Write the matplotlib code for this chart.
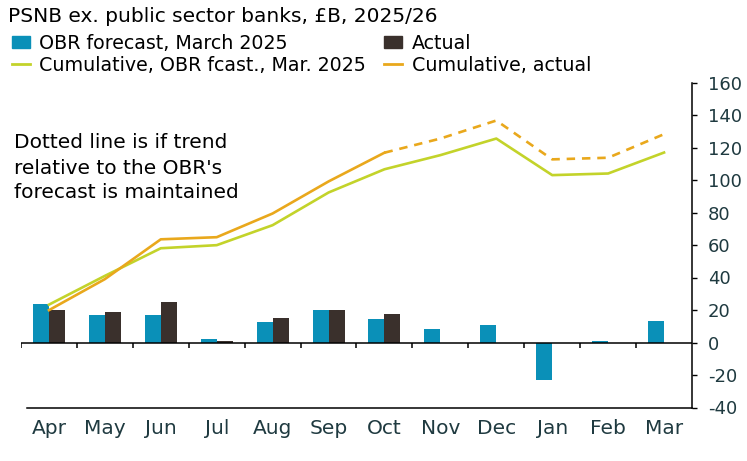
import matplotlib
matplotlib.use("Agg")
import matplotlib.pyplot as plt
import numpy as np
from matplotlib.patches import Patch
from matplotlib.lines import Line2D

# 数据
months = ["Apr", "May", "Jun", "Jul", "Aug", "Sep", "Oct", "Nov", "Dec", "Jan", "Feb", "Mar"]
obr_forecast = [23.6, 16.8, 16.8, 2.0, 12.5, 19.9, 14.3, 8.2, 10.6, -23.0, 0.8, 13.1]
actual = [20.0, 18.6, 24.8, 0.8, 15.0, 19.9, 17.4, None, None, None, None, None]
cum_obr = [23.3, 41.0, 58.0, 59.9, 72.2, 92.3, 106.6, 115.3, 125.5, 103.0, 104.0, 116.9]
cum_actual = [19.9, 39.0, 63.5, 64.8, 79.4, 99.1, 116.8, 125.5, 136.6, 112.7, 113.7, 128.2]
n_actual = 7  # 实际数据到 Oct 为止, 之后为虚线

plt.rcParams["font.family"] = ["DejaVu Sans"]
plt.rcParams["axes.unicode_minus"] = False

c_blue = "#0A90B8"
c_dark = "#3A302C"
c_green = "#C3D32A"
c_orange = "#E9A81C"
c_tick = "#1F3A40"

fig = plt.figure(figsize=(7.47, 4.61), dpi=100)
ax = fig.add_axes([21 / 747, 1 - 407.5 / 461, (692 - 21) / 747, (407.5 - 82.5) / 461])

x = np.arange(len(months))
w = 0.286
ax.bar(x - w / 2, obr_forecast, width=w, color=c_blue, zorder=2)
act_x = [i for i, v in enumerate(actual) if v is not None]
act_v = [v for v in actual if v is not None]
ax.bar(np.array(act_x) + w / 2, act_v, width=w, color=c_dark, zorder=2)

ax.plot(x, cum_obr, color=c_green, lw=1.9, zorder=3)
ax.plot(x[:n_actual], cum_actual[:n_actual], color=c_orange, lw=1.9, zorder=3)
ax.plot(x[n_actual - 1:], cum_actual[n_actual - 1:], color=c_orange, lw=1.9,
        dashes=(3.2, 2.6), zorder=3)

# 零线和分隔刻度
ax.axhline(0, color="black", lw=1.1, zorder=4)
ax.vlines(np.arange(-0.5, 11, 1), -3.3, 0, color="black", lw=1.1, zorder=4)

ax.set_xlim(-0.5, 11.5)
ax.set_ylim(-40, 160)
ax.set_yticks(np.arange(-40, 161, 20))
ax.yaxis.tick_right()
ax.set_xticks(x)
ax.set_xticklabels(months)
ax.tick_params(axis="x", length=0, pad=8, labelsize=14.5, labelcolor=c_tick)
ax.tick_params(axis="y", length=3.6, width=1, direction="out", pad=8,
               labelsize=13, labelcolor=c_tick)

ax.spines["top"].set_visible(False)
ax.spines["left"].set_visible(False)
ax.spines["right"].set_linewidth(1.1)
ax.spines["bottom"].set_linewidth(1.1)
ax.spines["bottom"].set_bounds(-0.39, 11.5)

# 标题与图例
fig.text(8 / 747, 1 - 17 / 461, "PSNB ex. public sector banks, £B, 2025/26",
         fontsize=14.5, va="center", ha="left")

handles = [
    Patch(color=c_blue, label="OBR forecast, March 2025"),
    Line2D([], [], color=c_green, lw=2, label="Cumulative, OBR fcast., Mar. 2025"),
    Patch(color=c_dark, label="Actual"),
    Line2D([], [], color=c_orange, lw=2, label="Cumulative, actual"),
]
fig.legend(handles=handles, ncol=2, loc="upper left", bbox_to_anchor=(8 / 747, 1 - 30 / 461),
           frameon=False, prop={"size": 13.7},
           handlelength=0.95, handleheight=0.6, handletextpad=0.5,
           columnspacing=0.95, labelspacing=0.15, borderaxespad=0, borderpad=0.2)

fig.text(14 / 747, 1 - 168 / 461,
         "Dotted line is if trend\nrelative to the OBR's\nforecast is maintained",
         fontsize=14.5, va="center", ha="left", linespacing=1.4)

fig.savefig("out.png", dpi=100)
